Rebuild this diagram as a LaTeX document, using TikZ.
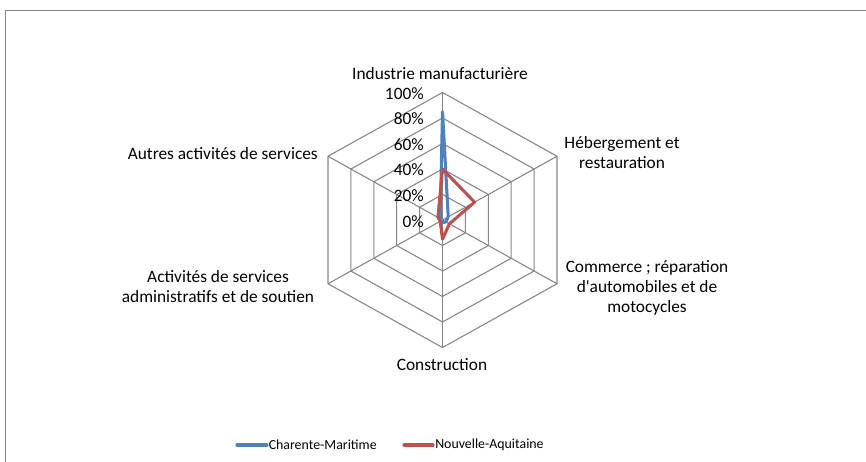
\documentclass[tikz,border=0pt]{standalone}
\usepackage{fontspec}
\setmainfont{Carlito}
\usetikzlibrary{calc}
\definecolor{gridgray}{HTML}{868686}
\definecolor{cmblue}{HTML}{4F81BD}
\definecolor{nared}{HTML}{C0504D}
\tikzset{
  gridline/.style={draw=gridgray, line width=0.8pt},
  serieline/.style={line width=2.3pt, line join=round, line cap=round},
  axislabel/.style={font=\fontsize{13}{15}\selectfont, align=center, inner sep=0pt},
  ticklabel/.style={font=\fontsize{13}{15}\selectfont, anchor=east, inner sep=0pt},
  legendtext/.style={font=\fontsize{10.4}{12}\selectfont, anchor=west, inner sep=0pt}
}
\begin{document}
\begin{tikzpicture}[x=0.75pt,y=-0.75pt]
\useasboundingbox (0,0) rectangle (866,461);
\fill[white] (0,0) rectangle (866,461);
\draw[gridgray, line width=1.1pt] (5.5,480) |- (890,10.5);
\coordinate (O) at (442.5,220);
\coordinate (A1) at (442.5,92.5);
\coordinate (A2) at (557,156.25);
\coordinate (A3) at (557,283.75);
\coordinate (A4) at (442.5,347.5);
\coordinate (A5) at (328,283.75);
\coordinate (A6) at (328,156.25);
% rings
\foreach \k in {0.2,0.4,0.6,0.8,1.0}{
  \draw[gridline] ($(O)!\k!(A1)$) -- ($(O)!\k!(A2)$) -- ($(O)!\k!(A3)$) -- ($(O)!\k!(A4)$) -- ($(O)!\k!(A5)$) -- ($(O)!\k!(A6)$) -- cycle;
}
% spokes
\foreach \i in {1,...,6}{ \draw[gridline] (O) -- (A\i); }
% series
\draw[serieline, draw=cmblue] ($(O)!0.85!(A1)$) -- ($(O)!0.05!(A2)$) -- ($(O)!0.03!(A3)$) -- ($(O)!0.02!(A4)$) -- ($(O)!0.01!(A5)$) -- ($(O)!0.02!(A6)$) -- cycle;
\draw[serieline, draw=nared] ($(O)!0.40!(A1)$) -- ($(O)!0.28!(A2)$) -- ($(O)!0.06!(A3)$) -- ($(O)!0.15!(A4)$) -- ($(O)!0.02!(A5)$) -- ($(O)!0.04!(A6)$) -- cycle;
% tick labels
\node[ticklabel] (t100) at (424,93.5) {100\%};
\node[ticklabel] (t80) at (424,119) {80\%};
\node[ticklabel] (t60) at (424,144.5) {60\%};
\node[ticklabel] (t40) at (424,170) {40\%};
\node[ticklabel] (t20) at (424,195.5) {20\%};
\node[ticklabel] (t0) at (424,221.5) {0\%};
% axis labels
\node[axislabel] (l1) at (440,74) {Industrie manufacturière};
\node[axislabel] (l2) at (622,153) {Hébergement et\\restauration};
\node[axislabel] (l3) at (647,287.5) {Commerce ; réparation\\d\textquotesingle automobiles et de\\motocycles};
\node[axislabel] (l4) at (442,365) {Construction};
\node[axislabel] (l5) at (218,286.5) {Activités de services\\administratifs et de soutien};
\node[axislabel, anchor=east] (l6) at (318,154) {Autres activités de services};
% legend
\coordinate (b1) at (237,445);
\coordinate (b2) at (267,445);
\draw[serieline, draw=cmblue] (b1) -- (b2);
\node[legendtext] (lg1) at (268.5,445) {Charente-Maritime};
\coordinate (r1) at (404,445);
\coordinate (r2) at (433,445);
\draw[serieline, draw=nared] (r1) -- (r2);
\node[legendtext] (lg2) at (435,445) {Nouvelle-Aquitaine};
\end{tikzpicture}
\end{document}
